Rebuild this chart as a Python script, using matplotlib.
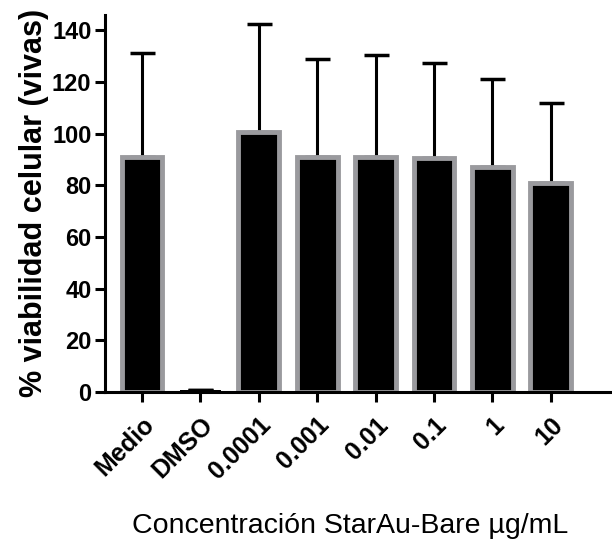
import matplotlib.pyplot as plt

plt.rcParams['font.family'] = ['Liberation Sans', 'DejaVu Sans']

# Viability values
groups = ['Medio', 'DMSO', '0.0001', '0.001', '0.01', '0.1', '1', '10']
viability = [91, 0.6, 100.5, 91, 91, 90.5, 87, 81]
upper_err = [40, 0, 42, 38, 39.5, 37, 34, 31]

fig = plt.figure(figsize=(6.12, 5.45), dpi=100)
ax = fig.add_axes([0.172, 0.281, 0.828, 0.692])

x = range(len(groups))
edge_w = [3.5 if v > 2 else 0 for v in viability]
ax.bar(x, viability, width=0.7, color='black', edgecolor='#9a9a9e',
       linewidth=edge_w, zorder=2)
ax.errorbar(x, viability, yerr=[[0] * len(groups), upper_err], fmt='none',
            ecolor='black', elinewidth=2.2, capsize=9, capthick=2.5, zorder=1)

ax.set_xlim(-0.63, 8.05)
ax.set_ylim(0, 146)
ax.set_yticks(range(0, 141, 20))
ax.set_xticks(list(x))
ax.set_xticklabels(groups, rotation=45, ha='right', rotation_mode='anchor',
                   fontsize=18, fontweight='bold')
for lab in ax.get_yticklabels():
    lab.set_fontsize(17)
    lab.set_fontweight('bold')

for side in ['top', 'right']:
    ax.spines[side].set_visible(False)
for side in ['left', 'bottom']:
    ax.spines[side].set_linewidth(2.2)
ax.tick_params(width=2.2, length=7, direction='out', pad=3)
ax.tick_params(axis='x', pad=8)

ax.set_ylabel('% viabilidad celular (vivas)', fontsize=22, fontweight='bold',
              labelpad=2)
ax.set_xlabel('Concentración StarAu-Bare µg/mL', fontsize=20.5)
ax.xaxis.set_label_coords(0.483, -0.322)

fig.savefig('out.png', dpi=100)
